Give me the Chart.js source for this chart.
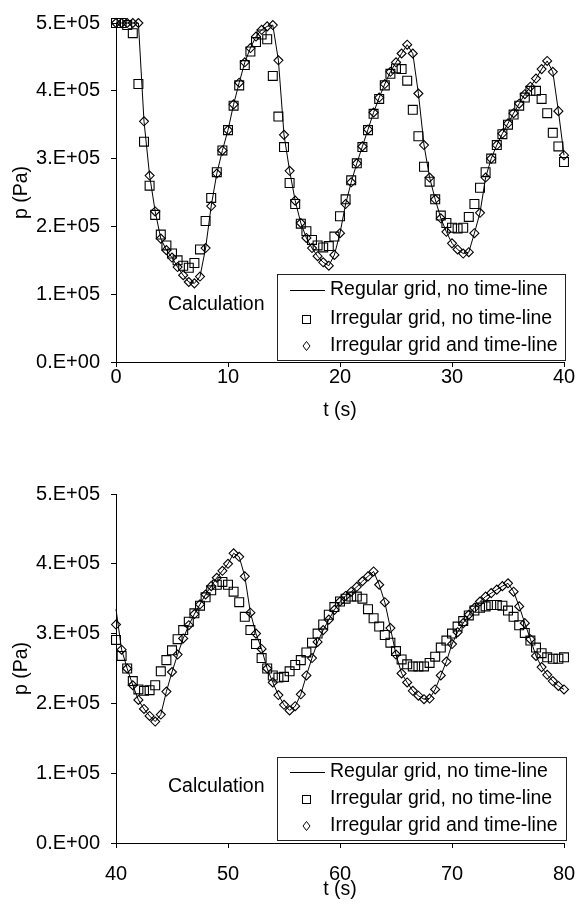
<!DOCTYPE html>
<html>
<head>
<meta charset="utf-8">
<title>p(t) - calculation</title>
<script src="https://cdn.jsdelivr.net/npm/chart.js@4/dist/chart.umd.min.js"></script>
<style>
    html, body { margin: 0; padding: 0; background: #fff; }
    #wrap { position: relative; width: 576px; height: 911px; }
    canvas { position: absolute; left: 0; }
    #topChart { top: 0; }
    #bottomChart { top: 440px; }
</style>
</head>
<body>
<div id="wrap">
    <canvas id="topChart" width="576" height="440"></canvas>
    <canvas id="bottomChart" width="576" height="471"></canvas>
</div>
<script>
// Series names, in legend order
const seriesNames = [ 'Regular grid, no time-line', 'Irregular grid, no time-line', 'Irregular grid and time-line' ];

// y tick labels (values are in units of 1e5 Pa)
const yTickLabels = [ '0.E+00', '1.E+05', '2.E+05', '3.E+05', '4.E+05', '5.E+05' ];

// Top chart: t = 0 .. 40 s
const topTimes = [ 0, 0.5, 1, 1.5, 2, 2.5, 3, 3.5, 4, 4.5, 5, 5.5, 6, 6.5, 7, 7.5, 8, 8.5, 9, 9.5,
    10, 10.5, 11, 11.5, 12, 12.5, 13, 13.5, 14, 14.5, 15, 15.5, 16, 16.5, 17, 17.5, 18, 18.5, 19, 19.5,
    20, 20.5, 21, 21.5, 22, 22.5, 23, 23.5, 24, 24.5, 25, 25.5, 26, 26.5, 27, 27.5, 28, 28.5, 29, 29.5,
    30, 30.5, 31, 31.5, 32, 32.5, 33, 33.5, 34, 34.5, 35, 35.5, 36, 36.5, 37, 37.5, 38, 38.5, 39, 39.5, 40 ];

const topRegular = [ 5.0, 5.0, 5.0, 5.0, 5.0, 3.55, 2.75, 2.22, 1.82, 1.65,
    1.54, 1.4, 1.28, 1.18, 1.16, 1.26, 1.68, 2.3, 2.78, 3.12,
    3.42, 3.8, 4.12, 4.42, 4.63, 4.8, 4.9, 4.95, 4.97, 4.45,
    3.35, 2.82, 2.38, 2.05, 1.83, 1.68, 1.56, 1.47, 1.42, 1.58,
    1.9, 2.33, 2.65, 2.93, 3.18, 3.43, 3.68, 3.9, 4.1, 4.28,
    4.42, 4.55, 4.68, 4.55, 3.96, 3.2, 2.72, 2.4, 2.12, 1.92,
    1.75, 1.66, 1.6, 1.62, 1.9, 2.2, 2.72, 3.0, 3.2, 3.37,
    3.52, 3.67, 3.81, 3.95, 4.06, 4.18, 4.32, 4.44, 4.28, 3.7, 3.05 ];

const topIrregular = [ 5.0, 5.0, 4.97, 4.85, 4.1, 3.25, 2.6, 2.17, 1.88, 1.72,
    1.6, 1.5, 1.42, 1.39, 1.46, 1.66, 2.08, 2.42, 2.8, 3.12,
    3.42, 3.78, 4.08, 4.38, 4.58, 4.72, 4.83, 4.76, 4.22, 3.62,
    3.17, 2.64, 2.33, 2.04, 1.93, 1.8, 1.72, 1.69, 1.71, 1.85,
    2.15, 2.4, 2.68, 2.93, 3.17, 3.42, 3.66, 3.88, 4.08, 4.25,
    4.33, 4.32, 4.15, 3.72, 3.33, 2.88, 2.66, 2.4, 2.16, 2.05,
    1.98, 1.97, 1.98, 2.14, 2.33, 2.57, 2.8, 3.0, 3.2, 3.36,
    3.5, 3.65, 3.78, 3.9, 4.0, 4.0, 3.88, 3.67, 3.38, 3.18, 2.95 ];

const topTimeLine = [ 5.0, 5.0, 5.0, 5.0, 5.0, 3.55, 2.75, 2.22, 1.82, 1.65,
    1.54, 1.4, 1.28, 1.18, 1.16, 1.26, 1.68, 2.3, 2.78, 3.12,
    3.42, 3.8, 4.12, 4.42, 4.63, 4.8, 4.9, 4.95, 4.97, 4.45,
    3.35, 2.82, 2.38, 2.05, 1.83, 1.68, 1.56, 1.47, 1.42, 1.58,
    1.9, 2.33, 2.65, 2.93, 3.18, 3.43, 3.68, 3.9, 4.1, 4.28,
    4.42, 4.55, 4.68, 4.55, 3.96, 3.2, 2.72, 2.4, 2.12, 1.92,
    1.75, 1.66, 1.6, 1.62, 1.9, 2.2, 2.72, 3.0, 3.2, 3.37,
    3.52, 3.67, 3.81, 3.95, 4.06, 4.18, 4.32, 4.44, 4.28, 3.7, 3.05 ];

// Bottom chart: t = 40 .. 80 s
const bottomTimes = [ 40, 40.5, 41, 41.5, 42, 42.5, 43, 43.5, 44, 44.5, 45, 45.5, 46, 46.5, 47, 47.5, 48, 48.5, 49, 49.5,
    50, 50.5, 51, 51.5, 52, 52.5, 53, 53.5, 54, 54.5, 55, 55.5, 56, 56.5, 57, 57.5, 58, 58.5, 59, 59.5,
    60, 60.5, 61, 61.5, 62, 62.5, 63, 63.5, 64, 64.5, 65, 65.5, 66, 66.5, 67, 67.5, 68, 68.5, 69, 69.5,
    70, 70.5, 71, 71.5, 72, 72.5, 73, 73.5, 74, 74.5, 75, 75.5, 76, 76.5, 77, 77.5, 78, 78.5, 79, 79.5, 80 ];

const bottomRegular = [ 3.35, 2.77, 2.5, 2.26, 2.05, 1.92, 1.82, 1.74, 1.84, 2.17,
    2.45, 2.7, 2.93, 3.12, 3.28, 3.42, 3.56, 3.68, 3.8, 3.9,
    4.0, 4.15, 4.1, 3.82, 3.3, 3.0, 2.78, 2.5, 2.3, 2.12,
    1.98, 1.9, 1.96, 2.13, 2.4, 2.65, 2.88, 3.05, 3.2, 3.34,
    3.46, 3.54, 3.6, 3.67, 3.75, 3.82, 3.89, 3.7, 3.45, 3.08,
    2.7, 2.43, 2.3, 2.18, 2.11, 2.06, 2.07, 2.2, 2.4, 2.6,
    2.85, 3.02, 3.15, 3.27, 3.37, 3.46, 3.53, 3.58, 3.63, 3.68,
    3.72, 3.6, 3.39, 3.15, 2.92, 2.68, 2.52, 2.41, 2.32, 2.25, 2.2 ];

const bottomIrregular = [ 2.91, 2.68, 2.5, 2.32, 2.2, 2.18, 2.19, 2.26, 2.46, 2.62,
    2.76, 2.92, 3.05, 3.17, 3.29, 3.4, 3.52, 3.62, 3.7, 3.74,
    3.7, 3.6, 3.45, 3.24, 3.05, 2.85, 2.65, 2.5, 2.4, 2.37,
    2.38, 2.46, 2.55, 2.62, 2.73, 2.87, 3.0, 3.13, 3.27, 3.38,
    3.46, 3.5, 3.53, 3.53, 3.5, 3.35, 3.22, 3.1, 2.98, 2.87,
    2.75, 2.63, 2.56, 2.53, 2.53, 2.53, 2.58, 2.67, 2.8, 2.9,
    3.0, 3.1, 3.18, 3.26, 3.33, 3.37, 3.39, 3.41, 3.41, 3.4,
    3.33, 3.24, 3.12, 3.01, 2.9, 2.8, 2.72, 2.66, 2.64, 2.64, 2.66 ];

const bottomTimeLine = [ 3.13, 2.77, 2.5, 2.26, 2.05, 1.92, 1.82, 1.74, 1.84, 2.17,
    2.45, 2.7, 2.93, 3.12, 3.28, 3.42, 3.56, 3.68, 3.8, 3.9,
    4.0, 4.15, 4.1, 3.82, 3.3, 3.0, 2.78, 2.5, 2.3, 2.12,
    1.98, 1.9, 1.96, 2.13, 2.4, 2.65, 2.88, 3.05, 3.2, 3.34,
    3.46, 3.54, 3.6, 3.67, 3.75, 3.82, 3.89, 3.7, 3.45, 3.08,
    2.7, 2.43, 2.3, 2.18, 2.11, 2.06, 2.07, 2.2, 2.4, 2.6,
    2.85, 3.02, 3.15, 3.27, 3.37, 3.46, 3.53, 3.58, 3.63, 3.68,
    3.72, 3.6, 3.39, 3.15, 2.92, 2.68, 2.52, 2.41, 2.32, 2.25, 2.2 ];

Chart.defaults.font.family = 'Arial, "Liberation Sans", sans-serif';
Chart.defaults.color = '#000';

// Legend drawn inside the plot area, plus the "Calculation" note
const insetLegend = {
    id: 'insetLegend',
    afterDraw ( chart, args, opts )
    {
        const ctx = chart.ctx;
        const [ bx, by, bw, bh ] = opts.box;
        ctx.save();
        ctx.fillStyle = '#fff';
        ctx.fillRect( bx, by, bw, bh );
        ctx.strokeStyle = '#222';
        ctx.lineWidth = 1;
        ctx.strokeRect( bx + 0.5, by + 0.5, bw, bh );

        const sx = opts.symbolX;
        ctx.strokeStyle = '#000';

        // row 1: thin line
        ctx.beginPath();
        ctx.moveTo( sx - 16, opts.rows[ 0 ] + 0.5 );
        ctx.lineTo( sx + 19, opts.rows[ 0 ] + 0.5 );
        ctx.stroke();

        // row 2: open square
        ctx.strokeRect( sx - 3.5, opts.rows[ 1 ] - 3.5, 8, 8 );

        // row 3: open diamond
        const dy = opts.rows[ 2 ];
        ctx.beginPath();
        ctx.moveTo( sx + 0.5, dy - 4.5 );
        ctx.lineTo( sx + 4, dy );
        ctx.lineTo( sx + 0.5, dy + 4.5 );
        ctx.lineTo( sx - 3, dy );
        ctx.closePath();
        ctx.stroke();

        ctx.fillStyle = '#000';
        ctx.font = '19.5px Arial, "Liberation Sans", sans-serif';
        ctx.textBaseline = 'middle';
        ctx.textAlign = 'left';
        seriesNames.forEach( ( name, i ) =>
        {
            ctx.fillText( name, opts.textX, opts.rows[ i ] );
        } );

        ctx.fillText( 'Calculation', opts.note[ 0 ], opts.note[ 1 ] );
        ctx.restore();
    }
};

function xyPoints ( times, values )
{
    return values.map( ( v, i ) => ( { x: times[ i ], y: v } ) );
}

function makeChart ( canvasId, times, regular, irregular, timeLine, setup )
{
    const ctx = document.getElementById( canvasId ).getContext( '2d' );

    return new Chart( ctx, {
        type: 'scatter',
        data: {
            datasets: [
                {
                    label: seriesNames[ 0 ],
                    data: xyPoints( times, regular ),
                    showLine: true,
                    borderColor: '#000',
                    borderWidth: 1,
                    pointRadius: 0,
                    order: 0,
                    clip: false
                },
                {
                    label: seriesNames[ 1 ],
                    data: xyPoints( times, irregular ),
                    showLine: false,
                    pointStyle: 'rect',
                    pointRadius: 6.3,
                    pointBorderColor: '#000',
                    pointBorderWidth: 1.1,
                    pointBackgroundColor: 'rgba(0,0,0,0)',
                    order: 2,
                    clip: false
                },
                {
                    label: seriesNames[ 2 ],
                    data: xyPoints( times, timeLine ),
                    showLine: false,
                    pointStyle: 'rectRot',
                    pointRadius: 4.5,
                    pointBorderColor: '#000',
                    pointBorderWidth: 1.1,
                    pointBackgroundColor: 'rgba(0,0,0,0)',
                    order: 1,
                    clip: false
                }
            ]
        },
        options: {
            responsive: false,
            animation: false,
            events: [],
            layout: {
                padding: { left: 0, top: setup.padTop, right: 12, bottom: setup.padBottom }
            },
            plugins: {
                legend: { display: false },
                tooltip: { enabled: false },
                insetLegend: setup.legend
            },
            scales: {
                x: {
                    type: 'linear',
                    min: setup.xMin,
                    max: setup.xMax,
                    ticks: {
                        stepSize: 10,
                        padding: 0,
                        // line height sets the gap between axis and tick labels
                        font: { size: 20, lineHeight: setup.xTickLineHeight }
                    },
                    grid: { drawOnChartArea: false, drawTicks: true, tickLength: 5, color: '#000' },
                    border: { display: true, color: '#000', width: 1 },
                    title: {
                        display: true,
                        text: 't (s)',
                        font: { size: 19.5, lineHeight: 1.2 },
                        padding: 0
                    },
                    afterFit: ( scale ) => { scale.height = setup.xAxisHeight; }
                },
                y: {
                    type: 'linear',
                    min: 0,
                    max: 5,
                    ticks: {
                        stepSize: 1,
                        padding: 11,
                        font: { size: 20 },
                        callback: ( value ) => yTickLabels[ value ]
                    },
                    grid: { drawOnChartArea: false, drawTicks: true, tickLength: 5, color: '#000' },
                    border: { display: true, color: '#000', width: 1 },
                    title: {
                        display: true,
                        text: 'p (Pa)',
                        font: { size: 19.5, lineHeight: 1.2 },
                        padding: { top: 10.3, bottom: 0 }
                    },
                    afterFit: ( scale ) => { scale.width = 116; }
                }
            }
        },
        plugins: [ insetLegend ]
    } );
}

makeChart( 'topChart', topTimes, topRegular, topIrregular, topTimeLine, {
    xMin: 0, xMax: 40,
    padTop: 14, padBottom: 18,
    xAxisHeight: 60, xTickLineHeight: 1,
    legend: { box: [ 277, 274, 288, 86 ], rows: [ 290, 319, 346 ], symbolX: 306, textX: 330, note: [ 168, 305 ] }
} );

makeChart( 'bottomChart', bottomTimes, bottomRegular, bottomIrregular, bottomTimeLine, {
    xMin: 40, xMax: 80,
    padTop: 54, padBottom: 10,
    xAxisHeight: 58, xTickLineHeight: 2.6,
    legend: { box: [ 277, 317, 289, 83 ], rows: [ 332, 359, 386 ], symbolX: 306, textX: 330, note: [ 168, 347 ] }
} );
</script>
</body>
</html>
